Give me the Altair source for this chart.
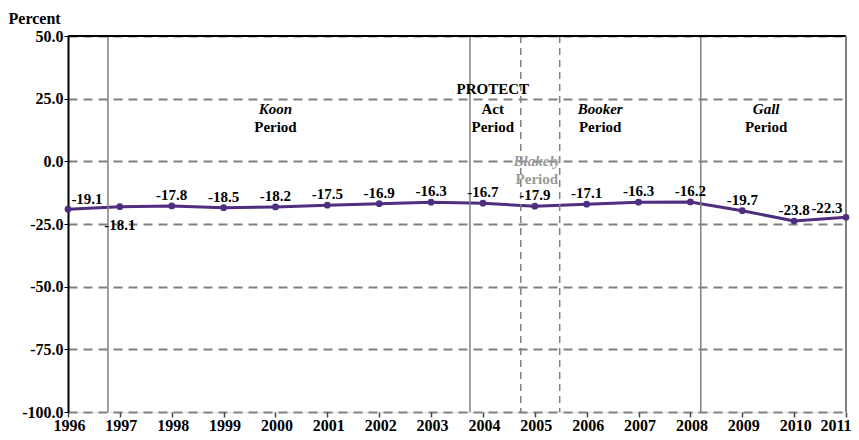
import altair as alt
import pandas as pd

years = list(range(1996, 2012))
values = [-19.1, -18.1, -17.8, -18.5, -18.2, -17.5, -16.9, -16.3,
          -16.7, -17.9, -17.1, -16.3, -16.2, -19.7, -23.8, -22.3]

y_ticks = [-100, -75, -50, -25, 0, 25, 50]

solid_events = [1996.77, 2003.75, 2008.2]
dashed_events = [2004.73, 2005.48]

period_names = ["Koon", "Booker", "Gall"]
period_name_x = [2000.0, 2006.26, 2009.46]
protect_lines = ["PROTECT", "Act"]
protect_x = 2004.19
blakely_x = 2005.04

FONT = "Liberation Serif"
PURPLE = "#4F2D7F"
GRAY = "#808080"
FS = 16
LFS = 15

df = pd.DataFrame({"year": years, "value": values})

xs = alt.Scale(domain=[1996, 2011], nice=False, zero=False)
ys = alt.Scale(domain=[-100, 50], nice=False, zero=False)

X = alt.X("year:Q", scale=xs, axis=alt.Axis(
    values=years, format="d", title=None, grid=False, domain=False,
    ticks=True, tickSize=5, tickColor="#444", tickWidth=1.5,
    labelFont=FONT, labelFontSize=FS, labelFontWeight="bold",
    labelColor="black", labelPadding=0, labelFlush=False,
    labelAlign={"condition": {"test": "datum.value == 2011", "value": "right"},
                "value": "center"},
    labelOffset={"condition": {"test": "datum.value == 2011", "value": 5},
                 "value": 1}))
Y = alt.Y("value:Q", scale=ys, axis=alt.Axis(
    values=y_ticks, format=".1f", title="Percent", titleAngle=0,
    labelExpr="replace(datum.label, '\u2212', '-')",
    titleX=-60, titleY=-13, titleAlign="left", titleBaseline="alphabetic",
    titleFont=FONT, titleFontSize=FS, titleFontWeight="bold", titleColor="black",
    grid=True, gridDash=[9, 6], gridColor=GRAY, gridWidth=2,
    domain=True, domainColor="black", domainWidth=2,
    ticks=True, tickSize=4, tickColor="black",
    labelFont=FONT, labelFontSize=FS, labelFontWeight="bold",
    labelColor="black", labelPadding=1))

base = alt.Chart(df).transform_calculate(
    lbl="replace(format(datum.value, '.1f'), '\u2212', '-')")

line = base.mark_line(color=PURPLE, strokeWidth=3).encode(x=X, y=Y)
pts = base.mark_circle(color=PURPLE, size=45, opacity=1).encode(x="year:Q", y="value:Q")

txt_kw = dict(font=FONT, fontSize=LFS, fontWeight="bold", color="black",
              baseline="middle", align="center")
special = [1996, 1997, 2011]
lab_main = base.transform_filter(
    ~alt.FieldOneOfPredicate(field="year", oneOf=special)
).mark_text(dy=-11, **txt_kw).encode(x="year:Q", y="value:Q", text="lbl:N")
lab_96 = base.transform_filter(alt.datum.year == 1996).mark_text(
    dx=19, dy=-10, **txt_kw).encode(x="year:Q", y="value:Q", text="lbl:N")
lab_97 = base.transform_filter(alt.datum.year == 1997).mark_text(
    dx=0, dy=18, **txt_kw).encode(x="year:Q", y="value:Q", text="lbl:N")
lab_11 = base.transform_filter(alt.datum.year == 2011).mark_text(
    dx=-19, dy=-9, **txt_kw).encode(x="year:Q", y="value:Q", text="lbl:N")

solid_df = pd.DataFrame({"x": solid_events})
dashed_df = pd.DataFrame({"x": dashed_events})
vsolid = alt.Chart(solid_df).mark_rule(color=GRAY, strokeWidth=1.5).encode(
    x=alt.X("x:Q", scale=xs))
vdash = alt.Chart(dashed_df).mark_rule(color=GRAY, strokeWidth=1.5,
                                       strokeDash=[7, 5]).encode(
    x=alt.X("x:Q", scale=xs))

top_border = alt.Chart(pd.DataFrame({"y": [50]})).mark_rule(
    color="black", strokeWidth=2).encode(y=alt.Y("y:Q", scale=ys))
right_border = alt.Chart(pd.DataFrame({"x": [2011]})).mark_rule(
    color=GRAY, strokeWidth=2).encode(x=alt.X("x:Q", scale=xs))

# period annotations
name_rows = [{"x": px, "y": 20.7, "t": n} for n, px in zip(period_names, period_name_x)]
period_rows = [{"x": px, "y": 13.6, "t": "Period"} for px in period_name_x + [protect_x]]
protect_rows = [{"x": protect_x, "y": 28.7, "t": protect_lines[0]},
                {"x": protect_x, "y": 20.7, "t": protect_lines[1]}]

ann_kw = dict(font=FONT, fontSize=15, fontWeight="bold", baseline="middle",
              align="center")
names = alt.Chart(pd.DataFrame(name_rows)).mark_text(
    fontStyle="italic", color="black", **ann_kw).encode(
    x=alt.X("x:Q", scale=xs), y=alt.Y("y:Q", scale=ys), text="t:N")
periods = alt.Chart(pd.DataFrame(period_rows + protect_rows)).mark_text(
    color="black", **ann_kw).encode(
    x=alt.X("x:Q", scale=xs), y=alt.Y("y:Q", scale=ys), text="t:N")
blakely_name = alt.Chart(pd.DataFrame([{"x": blakely_x, "y": 0.0, "t": "Blakely"}])).mark_text(
    fontStyle="italic", color="#9a9a9a", **ann_kw).encode(
    x=alt.X("x:Q", scale=xs), y=alt.Y("y:Q", scale=ys), text="t:N")
blakely_period = alt.Chart(pd.DataFrame([{"x": blakely_x, "y": -7.2, "t": "Period"}])).mark_text(
    color="#9a9a9a", **ann_kw).encode(
    x=alt.X("x:Q", scale=xs), y=alt.Y("y:Q", scale=ys), text="t:N")

chart = alt.layer(
    line, vsolid, vdash, top_border, right_border, pts,
    lab_main, lab_96, lab_97, lab_11,
    names, periods, blakely_name, blakely_period
).properties(
    width=778, height=376,
    autosize=alt.AutoSizeParams(type="none"),
    padding={"left": 60, "top": 28, "right": 5, "bottom": 20},
).configure_view(stroke=None).configure(background="white")

chart.save("out.html", embed_options={"renderer": "svg", "actions": False})
